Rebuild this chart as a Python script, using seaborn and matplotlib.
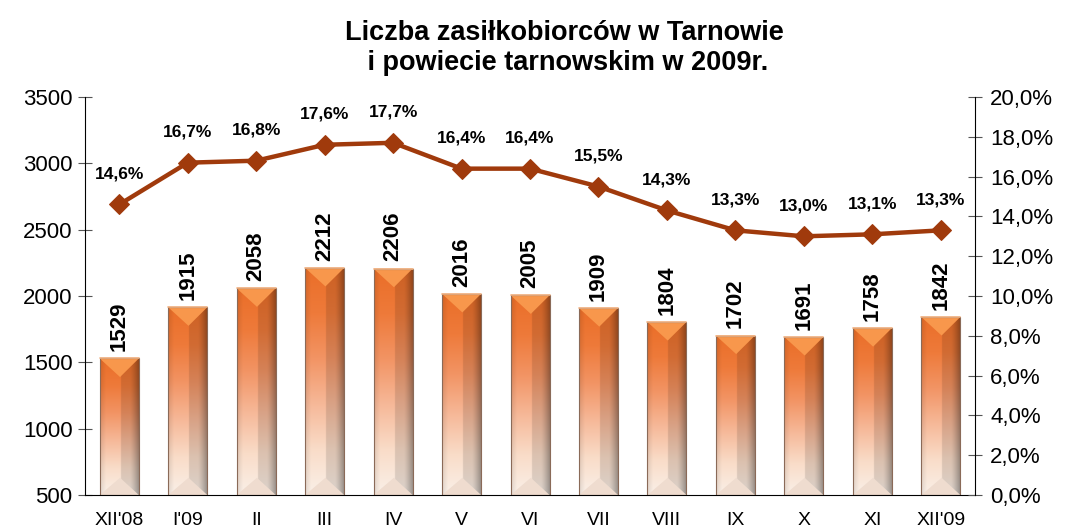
import numpy as np
import pandas as pd
import matplotlib.pyplot as plt
import seaborn as sns
from matplotlib.colors import LinearSegmentedColormap
from matplotlib.ticker import FuncFormatter

# data
months = ["XII'08", "I'09", "II", "III", "IV", "V", "VI", "VII", "VIII", "IX", "X", "XI", "XII'09"]
recipients = [1529, 1915, 2058, 2212, 2206, 2016, 2005, 1909, 1804, 1702, 1691, 1758, 1842]
share = [14.6, 16.7, 16.8, 17.6, 17.7, 16.4, 16.4, 15.5, 14.3, 13.3, 13.0, 13.1, 13.3]

df = pd.DataFrame({'month': months, 'recipients': recipients, 'share': share})

sns.set_style('white')
plt.rcParams['font.family'] = ['Liberation Sans', 'DejaVu Sans']
plt.rcParams['text.color'] = 'black'
plt.rcParams['xtick.color'] = 'black'
plt.rcParams['ytick.color'] = 'black'

fig = plt.figure(figsize=(10.71, 5.29), dpi=100)
ax = fig.add_axes([0.0794, 0.0643, 0.8310, 0.7523])

sns.barplot(data=df, x='month', y='recipients', ax=ax, color='#E8742A',
            width=0.57, saturation=1, edgecolor='none')
ax.set_ylim(500, 3500)
ax.set_xlim(-0.5, len(months) - 0.5)

# gradient fill for each bar (orange top -> cream bottom, darker right side)
cmap = LinearSegmentedColormap.from_list(
    'bar', ['#FAF0E8', '#F9DCC8', '#F6B898', '#F29464', '#EE7A3A', '#EA6E28'])
vert = np.linspace(0, 1, 256)[:, None]
horiz = np.linspace(0, 1, 80)[None, :]
base = cmap(vert * np.ones_like(horiz))
shade = np.where(horiz < 0.52, 1 - 0.10 * np.clip((0.15 - horiz) / 0.15, 0, 1),
                 0.88 - 0.30 * np.clip((horiz - 0.75) / 0.25, 0, 1) ** 1.3)
base[..., :3] *= shade[..., None]
for p in ax.patches:
    x0, w = p.get_x(), p.get_width()
    h = p.get_height()
    y0 = 500
    top = h
    z = p.get_zorder()
    im = ax.imshow(base, extent=[x0, x0 + w, y0, top], origin='lower',
                   aspect='auto', zorder=z + 0.1, interpolation='bilinear')
    im.set_clip_path(p)
    # bevel triangles at the top and at the bottom
    ax.add_patch(plt.Polygon([[x0, top], [x0 + w, top], [x0 + w * 0.52, top - 140]],
                             closed=True, facecolor='#F8974C', edgecolor='none', zorder=z + 0.2))
    ax.add_patch(plt.Polygon([[x0, y0], [x0 + w, y0], [x0 + w * 0.52, y0 + 130]],
                             closed=True, facecolor='#EFDCCF', edgecolor='none', zorder=z + 0.2))
    ax.add_patch(plt.Rectangle((x0, y0), w, top - y0, facecolor='none',
                               edgecolor='#8A6A58', lw=0.8, zorder=z + 0.3))
    ax.plot([x0, x0 + w], [top, top], color='#F0B080', lw=1.2, zorder=z + 0.4)
    ax.text(x0 + w / 2, top + 55, f'{int(h)}', rotation=90, ha='center', va='bottom',
            fontsize=16, fontweight='bold', zorder=5)

ax.set_xlabel('')
ax.set_ylabel('')
ax.set_yticks(range(500, 3501, 500))
ax.tick_params(axis='y', labelsize=16, direction='inout', length=10, color='#555555', pad=4)
ax.set_xticks(np.arange(-0.5, len(months), 1), minor=True)
ax.tick_params(axis='x', which='major', labelsize=14, length=0, pad=12)
ax.tick_params(axis='x', which='minor', length=10, direction='inout', color='#555555')
for s in ['top', 'right']:
    ax.spines[s].set_visible(False)
ax.spines['left'].set_color('black')
ax.spines['bottom'].set_color('black')

ax2 = ax.twinx()
sns.lineplot(data=df, x='month', y='share', ax=ax2, color='#A03A0C', lw=3.2,
             marker='D', markersize=10, markeredgecolor='#A03A0C', sort=False)
ax2.set_ylim(0, 20)
ax2.set_yticks(np.arange(0, 20.1, 2))
ax2.yaxis.set_major_formatter(FuncFormatter(lambda v, _: f'{v:.1f}%'.replace('.', ',')))
ax2.tick_params(axis='y', labelsize=16, direction='inout', length=10, color='#555555', pad=6)
ax2.set_ylabel('')
ax2.set_xlabel('')
for s in ['top', 'left', 'bottom']:
    ax2.spines[s].set_visible(False)
ax2.spines['right'].set_color('black')
for i, v in enumerate(share):
    ax2.text(i, v + 1.15, f'{v:.1f}%'.replace('.', ','), ha='center', va='bottom',
             fontsize=12.5, fontweight='bold')

fig.text(0.527, 0.962, 'Liczba zasiłkobiorców w Tarnowie\n i powiecie tarnowskim w 2009r.',
         ha='center', va='top', fontsize=19.5, fontweight='bold', linespacing=1.2)

fig.savefig('out.png', dpi=100)
